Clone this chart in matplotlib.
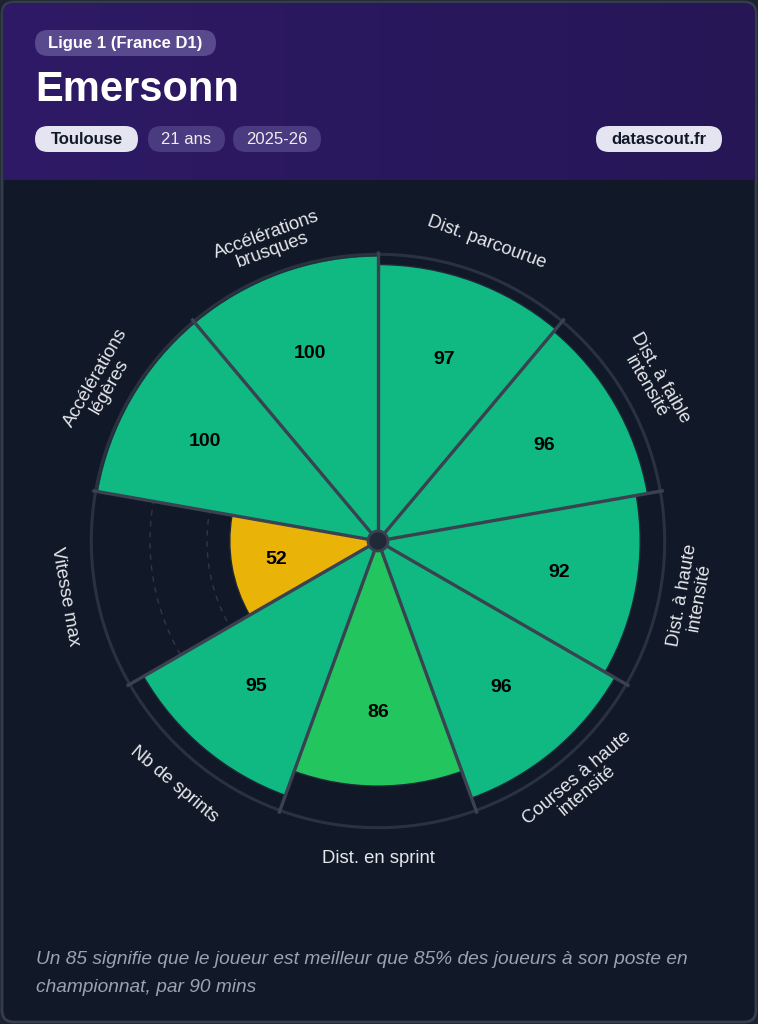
import numpy as np
import matplotlib
matplotlib.use("Agg")
import matplotlib.pyplot as plt
from matplotlib.patches import FancyBboxPatch, Circle

plt.rcParams['font.family'] = ['Liberation Sans', 'DejaVu Sans']

# data
league = "Ligue 1 (France D1)"
player = "Emersonn"
club = "Toulouse"
age = "21 ans"
season = "2025-26"
source = "datascout.fr"
categories = ["Dist. parcourue", "Dist. à faible\nintensité", "Dist. à haute\nintensité",
              "Courses à haute\nintensité", "Dist. en sprint", "Nb de sprints",
              "Vitesse max", "Accélérations\nlégères", "Accélérations\nbrusques"]
values = [97, 96, 92, 96, 86, 95, 52, 100, 100]
footer = ["Un 85 signifie que le joueur est meilleur que 85% des joueurs à son poste en",
          "championnat, par 90 mins"]

W, H = 758, 1024
BG = '#111827'
SEP = '#3a4150'


def bar_color(v):
    if v >= 90:
        return '#10b981'
    if v >= 70:
        return '#22c55e'
    if v >= 50:
        return '#eab308'
    return '#ef4444'


fig = plt.figure(figsize=(W / 100, H / 100), dpi=100)
fig.patch.set_facecolor('#1c2230')

# background / card layer in pixel coords
bg = fig.add_axes([0, 0, 1, 1], zorder=0)
bg.set_xlim(0, W)
bg.set_ylim(H, 0)
bg.axis('off')

card = FancyBboxPatch((2, 2), W - 4, H - 4, boxstyle="round,pad=0,rounding_size=12",
                      fc=BG, ec='#353c4a', lw=2)
bg.add_patch(card)

# header gradient
grad = np.linspace(0, 1, 256)[None, :]
c1 = np.array([46, 26, 102]) / 255
c2 = np.array([38, 22, 86]) / 255
img = c1[None, None, :] * (1 - grad[..., None]) + c2[None, None, :] * grad[..., None]
im = bg.imshow(img, extent=(3, W - 3, 180, 3), aspect='auto', zorder=1)
clip = FancyBboxPatch((3, 3), W - 6, 190, boxstyle="round,pad=0,rounding_size=11",
                      transform=bg.transData, fc='none', ec='none')
bg.add_patch(clip)
im.set_clip_path(clip)


def pill(x0, x1, yc, text, fc, tc, bold=False, h=26, size=12):
    p = FancyBboxPatch((x0, yc - h / 2), x1 - x0, h,
                       boxstyle="round,pad=0,rounding_size=%d" % (h // 2),
                       fc=fc, ec='none', zorder=2)
    bg.add_patch(p)
    bg.text((x0 + x1) / 2, yc + 0.5, text, color=tc, fontsize=size,
            fontweight='bold' if bold else 'normal', ha='center', va='center', zorder=3)


pill(35, 216, 43, league, '#584a8c', 'white', bold=True)
bg.text(35, 90, player, color='white', fontsize=30, fontweight='bold',
        ha='left', va='center', zorder=3)
pill(35, 138, 139, club, '#e4e5f0', '#111827', bold=True)
pill(148, 225, 139, age, '#4a3a80', '#eeeeee')
pill(233, 321, 139, season, '#4a3a80', '#eeeeee')
pill(596, 722, 139, source, '#e4e5f0', '#111827', bold=True)

bg.text(36, 960, footer[0], color='#9ca3af', fontsize=13.8, style='italic',
        ha='left', va='center')
bg.text(36, 987, footer[1], color='#9ca3af', fontsize=13.8, style='italic',
        ha='left', va='center')

# polar pizza
cx, cy, R = 378, 541, 285
ax = fig.add_axes([(cx - R) / W, (H - cy - R) / H, 2 * R / W, 2 * R / H],
                  projection='polar', zorder=2)
ax.set_facecolor('none')
ax.set_theta_zero_location('N')
ax.set_theta_direction(-1)
ax.set_ylim(0, 100)
ax.axis('off')

n = len(values)
step = 2 * np.pi / n
centers = np.arange(n) * step + step / 2
edges = np.arange(n) * step

full = np.linspace(0, 2 * np.pi, 400)
for g in [20, 40, 60, 80]:
    ax.plot(full, np.full_like(full, g), color='#2f3645', lw=1, ls=(0, (4, 4)), zorder=1)
ax.plot(full, np.full_like(full, 100.6), color='#2a3140', lw=2.2, zorder=1, clip_on=False)

ax.bar(centers, values, width=step, bottom=0,
       color=[bar_color(v) for v in values], edgecolor='#1f2937', lw=1, zorder=2)

for e in edges:
    ax.plot([e, e], [0, 101.8], color=SEP, lw=2.4, zorder=3, clip_on=False,
            solid_capstyle='butt')

ax.add_artist(Circle((0.5, 0.5), 10 / (2 * R), transform=ax.transAxes,
                     fc='#1f2937', ec=SEP, lw=2, zorder=4))

for th, v, lab in zip(centers, values, categories):
    ax.text(th, v * 0.7, str(v), color='black', fontsize=14, fontweight='bold',
            ha='center', va='center', zorder=5)
    phi = (90 - np.degrees(th)) % 360
    rot = phi - 90 if phi <= 180 else phi + 90
    ax.text(th, 111.5, lab, color='#e5e7eb', fontsize=13.3, ha='center', va='center',
            rotation=rot, rotation_mode='anchor', linespacing=0.97, clip_on=False)

fig.savefig('out.png', dpi=100, facecolor=fig.get_facecolor())
